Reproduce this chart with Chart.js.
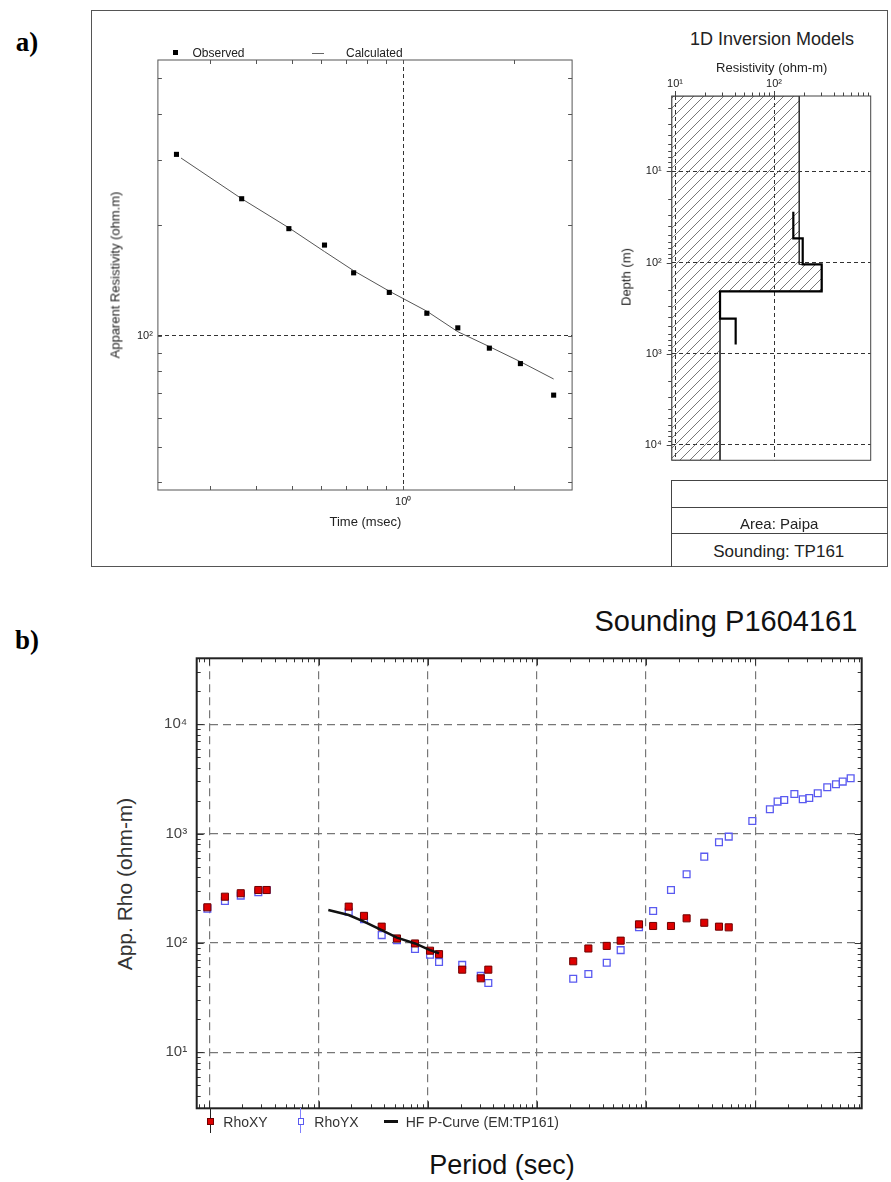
<!DOCTYPE html>
<html>
<head>
<meta charset="utf-8">
<script src="https://cdn.jsdelivr.net/npm/chart.js@4.4.1/dist/chart.umd.min.js"></script>
<style>
body { margin: 0; background: #fff; width: 891px; height: 1182px; position: relative; overflow: hidden; font-family: "Liberation Sans", Arial, sans-serif; color: #222; }
.t { position: absolute; white-space: nowrap; line-height: 1; }
.b { position: absolute; box-sizing: border-box; }
canvas { position: absolute; }
</style>
</head>
<body>
<script>
// ---- panel a, left: TEM sounding curve ----
var obsTime = [0.243, 0.365, 0.490, 0.612, 0.734, 0.917, 1.159, 1.406, 1.712, 2.078, 2.557];
var obsRho  = [310, 235, 195, 176, 148, 131, 115, 105, 92.5, 84, 69];
var calcTime = [0.25, 0.365, 0.490, 0.612, 0.734, 0.917, 1.159, 1.406, 1.712, 2.078, 2.557];
var calcRho  = [303, 235, 196, 169, 150, 132, 116.5, 102.5, 93.4, 85, 76.3];

// ---- panel a, right: 1D inversion model (layers) ----
var layerRes   = [156.7, 195, 303, 28.5, 41];
var layerTop   = [27.7, 54.3, 105, 206.6, 411];
var layerBase  = 792;
var envRes     = [180, 303, 28.5];       // hatched envelope, one value per depth band
var envBreaks  = [105, 206.6];           // depths where the envelope changes

// ---- panel b: MT sounding ----
var period = [0.00096, 0.00139, 0.00194, 0.00281, 0.00335, 0.0189, 0.0261, 0.0379, 0.0523, 0.0765,
  0.105, 0.127, 0.207, 0.306, 0.359, 2.15, 2.96, 4.36, 5.85, 8.61,
  11.6, 16.9, 23.5, 34.1, 46.5, 57.1, 93.9, 136, 160, 184,
  228, 272, 312, 373, 456, 548, 632, 747];
var rhoXY = [212, 265, 285, 305, 305, 215, 177, 141, 110, 99,
  85, 79, 57, 47.5, 57, 68, 89, 94, 105, 148,
  143, 143, 168, 153, 141, 139];
var rhoYX = [206, 242, 271, 291, 305, 193, 165, 118, 106, 88,
  78, 67, 63, 50, 43, 47, 52, 66, 86, 139,
  196, 305, 425, 616, 834, 939, 1307, 1672, 1963, 2034,
  2308, 2064, 2121, 2342, 2658, 2831, 2991, 3213];
var hfPeriod = [0.0123, 0.0189, 0.0261, 0.0379, 0.0523, 0.0765, 0.105, 0.127];
var hfRho    = [200, 180, 157, 131, 112, 99, 86, 80.5];

var FONT = '"Liberation Sans", Arial, sans-serif';

function isDec(v) { var l = Math.log10(v); return Math.abs(l - Math.round(l)) < 1e-9; }
var SUP = {'-': '\u207B', '0': '\u2070', '1': '\u00B9', '2': '\u00B2', '3': '\u00B3', '4': '\u2074', '5': '\u2075'};
function sup(v) { return '10' + String(Math.round(Math.log10(v))).split('').map(function (c) { return SUP[c]; }).join(''); }
function logTicks(min, max) {
  var out = [];
  for (var e = Math.floor(Math.log10(min)); e <= Math.ceil(Math.log10(max)); e++) {
    for (var m = 1; m <= 9; m++) {
      var v = m * Math.pow(10, e);
      if (v >= min * 0.9999 && v <= max * 1.0001) out.push({ value: v });
    }
  }
  return out;
}
function pts(xs, ys) { return ys.map(function (y, i) { return { x: xs[i], y: y }; }); }

function logAxis(min, max, o) {
  return {
    type: 'logarithmic', min: min, max: max, position: o.pos, reverse: !!o.rev,
    afterBuildTicks: function (s) { s.ticks = logTicks(min, max); },
    afterFit: function (s) {
      if (s.isHorizontal()) s.height = o.size; else s.width = o.size;
      // keep the plot area where we put it: no extra room for edge labels
      s.paddingTop = 0; s.paddingBottom = 0; s.paddingLeft = 0; s.paddingRight = 0;
    },
    ticks: {
      display: o.labels !== false, autoSkip: false, maxRotation: 0, padding: o.pad || 4,
      color: o.tc || '#222', font: { family: FONT, size: o.fs || 10 },
      callback: function (v) { return isDec(v) ? sup(v) : ''; }
    },
    grid: {
      drawTicks: false, lineWidth: o.gw || 1,
      color: function (c) { return c.tick && isDec(c.tick.value) ? o.gc : 'rgba(0,0,0,0)'; }
    },
    border: { display: false, dash: o.dash }
  };
}

// frame + tick marks drawn from the chart's own scales
var frame = {
  id: 'frame',
  afterDatasetsDraw: function (chart, args, o) {
    var ctx = chart.ctx, a = chart.chartArea, sx = chart.scales.x, sy = chart.scales.y;
    ctx.save();
    ctx.strokeStyle = o.tickColor; ctx.lineWidth = 1;
    ctx.beginPath();
    sx.ticks.forEach(function (t) {
      var p = Math.round(sx.getPixelForValue(t.value)) + 0.5, L = isDec(t.value) ? o.major : o.minor;
      if (o.top) { ctx.moveTo(p, a.top); ctx.lineTo(p, a.top + o.top * L); }
      if (o.bottom) { ctx.moveTo(p, a.bottom); ctx.lineTo(p, a.bottom - o.bottom * L); }
    });
    sy.ticks.forEach(function (t) {
      var p = Math.round(sy.getPixelForValue(t.value)) + 0.5, L = isDec(t.value) ? o.major : o.minor;
      if (o.left) { ctx.moveTo(a.left, p); ctx.lineTo(a.left + o.left * L, p); }
      if (o.right) { ctx.moveTo(a.right, p); ctx.lineTo(a.right - o.right * L, p); }
    });
    ctx.stroke();
    ctx.lineWidth = o.width; ctx.strokeStyle = o.color;
    ctx.strokeRect(a.left, a.top, a.right - a.left, a.bottom - a.top);
    ctx.restore();
  }
};

function mk(l, t, w, h) {
  var c = document.createElement('canvas');
  c.width = w; c.height = h;
  c.style.left = l + 'px'; c.style.top = t + 'px'; c.style.width = w + 'px'; c.style.height = h + 'px';
  document.body.appendChild(c);
  return c;
}
function txt(s, x, y, size, o) {
  o = o || {};
  var d = document.createElement('div');
  d.className = 't'; d.textContent = s;
  d.style.left = x + 'px'; d.style.top = y + 'px'; d.style.fontSize = size + 'px';
  if (o.bold) d.style.fontWeight = 'bold';
  if (o.serif) d.style.fontFamily = '"Liberation Serif", "Times New Roman", serif';
  d.style.color = o.color || '#222';
  var tx = o.align === 'left' ? '0' : (o.align === 'right' ? '-100%' : '-50%');
  d.style.transform = 'translate(' + tx + ',-50%)' + (o.rot ? ' rotate(-90deg)' : '');
  document.body.appendChild(d);
}
function box(l, t, w, h, css) {
  var d = document.createElement('div');
  d.className = 'b';
  d.style.left = l + 'px'; d.style.top = t + 'px'; d.style.width = w + 'px'; d.style.height = h + 'px';
  d.style.cssText += css;
  document.body.appendChild(d);
}

var base = { responsive: false, animation: false, events: [] };

// ---------- panel a ----------
box(91, 10, 797, 557, 'border:1px solid #555;');
txt('a)', 27, 42, 27, { bold: true, serif: true, color: '#000' });

new Chart(mk(100, 50, 480, 465), {
  type: 'scatter',
  data: { datasets: [
    { label: 'Observed', data: pts(obsTime, obsRho), pointStyle: 'rect', pointRadius: 3.6,
      backgroundColor: '#000', borderColor: '#000', borderWidth: 0 },
    { label: 'Calculated', data: pts(calcTime, calcRho), showLine: true, borderColor: '#555',
      borderWidth: 1, pointRadius: 0 }
  ] },
  options: Object.assign({}, base, {
    layout: { padding: { left: 0, top: 10, right: 7.9, bottom: 5 } },
    plugins: { legend: { display: false }, tooltip: { enabled: false },
      frame: { color: '#555', width: 1, tickColor: '#555', top: 1, bottom: 1, left: 1, right: 1, minor: 4, major: 4 } },
    scales: {
      x: logAxis(0.2164, 2.869, { pos: 'bottom', size: 20, pad: 5, gc: '#333', dash: [4, 3], fs: 11 }),
      y: logAxis(38.17, 558.6, { pos: 'left', size: 57.9, pad: 5, gc: '#333', dash: [4, 3], fs: 11 })
    }
  }),
  plugins: [frame]
});

// legend a
box(172.5, 50.2, 5, 5, 'background:#000;');
txt('Observed', 192.5, 53, 12, { align: 'left' });
box(312, 52.5, 12, 1, 'background:#666;');
txt('Calculated', 346, 53, 12, { align: 'left' });
txt('Apparent Resistivity (ohm.m)', 115, 274.5, 13, { rot: true });
txt('Time (msec)', 365.4, 521, 13);

// hatch pattern for the model envelope
var pc = document.createElement('canvas');
pc.width = 10; pc.height = 10;
var px = pc.getContext('2d');
px.strokeStyle = '#555'; px.lineWidth = 0.8;
px.beginPath();
px.moveTo(0, 10); px.lineTo(10, 0);
px.moveTo(-1, 1); px.lineTo(1, -1);
px.moveTo(9, 11); px.lineTo(11, 9);
px.stroke();
var hatch = pc.getContext('2d').createPattern(pc, 'repeat');

var resMin = 9.26, resMax = 948, depMin = 1.494, depMax = 14720;

// step line of the preferred model
var modelPts = [];
layerRes.forEach(function (r, i) {
  var bot = i < layerRes.length - 1 ? layerTop[i + 1] : layerBase;
  modelPts.push({ x: r, y: layerTop[i] }, { x: r, y: bot });
});
// envelope polygon
var envDep = [depMin].concat(envBreaks).concat([depMax]);
var envPts = [{ x: resMin, y: depMin }];
envRes.forEach(function (r, i) { envPts.push({ x: r, y: envDep[i] }, { x: r, y: envDep[i + 1] }); });
envPts.push({ x: resMin, y: depMax }, { x: resMin, y: depMin });

new Chart(mk(630, 70, 250, 395), {
  type: 'scatter',
  data: { datasets: [
    { label: 'model', data: modelPts, showLine: true, borderColor: '#000', borderWidth: 2.2, pointRadius: 0 },
    { label: 'envelope', data: envPts, showLine: true, fill: 'shape', backgroundColor: hatch,
      borderColor: '#333', borderWidth: 1, pointRadius: 0 }
  ] },
  options: Object.assign({}, base, {
    layout: { padding: { left: 0, top: 0, right: 9.3, bottom: 4.7 } },
    plugins: { legend: { display: false }, tooltip: { enabled: false },
      frame: { color: '#444', width: 1, tickColor: '#444', top: -1, left: -1, minor: 3.5, major: 5 } },
    scales: {
      x: logAxis(resMin, resMax, { pos: 'top', size: 26, pad: 5, gc: '#333', dash: [4, 3], fs: 11 }),
      y: logAxis(depMin, depMax, { pos: 'left', rev: true, size: 41.7, pad: 10, gc: '#333', dash: [4, 3], fs: 11 })
    }
  }),
  plugins: [frame]
});

txt('1D Inversion Models', 772, 39, 18);
txt('Resistivity (ohm-m)', 771.7, 66.5, 13);
txt('Depth (m)', 626, 276.5, 13, { rot: true });

// info table
box(671, 480, 217, 1, 'background:#444;');
box(671, 506.5, 217, 1, 'background:#444;');
box(671, 533, 217, 1, 'background:#444;');
box(671, 480, 1, 87, 'background:#444;');
txt('Area: Paipa', 779.2, 522.5, 15);
txt('Sounding: TP161', 778.8, 550.5, 17);

// ---------- panel b ----------
txt('b)', 27, 640, 27, { bold: true, serif: true, color: '#000' });
txt('Sounding P1604161', 857.3, 621, 29, { align: 'right', color: '#111' });

new Chart(mk(140, 650, 730, 465), {
  type: 'scatter',
  data: { datasets: [
    { label: 'HF P-Curve (EM:TP161)', data: pts(hfPeriod, hfRho), showLine: true, borderColor: '#111',
      borderWidth: 2.5, pointRadius: 0 },
    { label: 'RhoXY', data: pts(period, rhoXY), pointStyle: 'rect', pointRadius: 5,
      backgroundColor: '#dd0000', borderColor: '#700000', borderWidth: 1 },
    { label: 'RhoYX', data: pts(period, rhoYX), pointStyle: 'rect', pointRadius: 4.8,
      backgroundColor: 'rgba(255,255,255,0.3)', borderColor: '#5a5af0', borderWidth: 1.3 }
  ] },
  options: Object.assign({}, base, {
    layout: { padding: { left: 0, top: 8.3, right: 8.3, bottom: 6.7 } },
    plugins: { legend: { display: false }, tooltip: { enabled: false },
      frame: { color: '#222', width: 2, tickColor: '#333', top: 1, bottom: 1, left: 1, right: 1, minor: 4, major: 7 } },
    scales: {
      x: logAxis(7.666e-4, 942.8, { pos: 'bottom', labels: false, size: 0, gc: '#777', dash: [8, 5], gw: 1.2 }),
      y: logAxis(3.074, 40160, { pos: 'left', size: 56.7, pad: 9.5, gc: '#777', dash: [8, 5], gw: 1.2, fs: 15, tc: '#444' })
    }
  }),
  plugins: [frame]
});

txt('App. Rho (ohm-m)', 123.5, 883.5, 21, { rot: true, color: '#333' });
txt('Period (sec)', 502, 1165, 27, { color: '#111' });

// legend b
box(210, 1108, 1, 25, 'background:#222;');
box(206.8, 1117.8, 7, 7, 'background:#dd0000;border:1px solid #700000;');
txt('RhoXY', 223.3, 1121.5, 14, { align: 'left', color: '#333' });
box(300.2, 1108, 1, 25, 'background:#8080ff;');
box(297.5, 1118.3, 6.5, 6.5, 'background:#fff;border:1px solid #5a5af0;');
txt('RhoYX', 314.3, 1121.5, 14, { align: 'left', color: '#333' });
box(384, 1119.8, 14.3, 3, 'background:#111;');
txt('HF P-Curve (EM:TP161)', 405.7, 1121.5, 14, { align: 'left', color: '#333' });
</script>
</body>
</html>
